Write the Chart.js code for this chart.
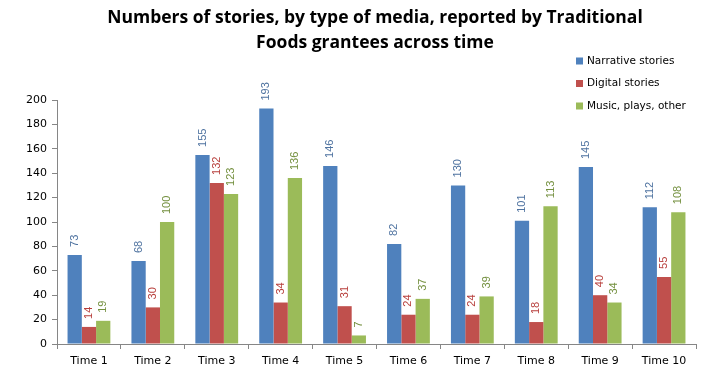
<!DOCTYPE html>
<html>
<head>
<meta charset="utf-8">
<script src="https://cdn.jsdelivr.net/npm/chart.js@4"></script>
<style>
html,body{margin:0;padding:0;background:#fff;}
#wrap{width:718px;height:382px;position:relative;}
</style>
</head>
<body>
<div id="wrap"><canvas id="c" width="718" height="382"></canvas></div>
<script>
const categories = ["Time 1","Time 2","Time 3","Time 4","Time 5","Time 6","Time 7","Time 8","Time 9","Time 10"];
const narrative = [73, 68, 155, 193, 146, 82, 130, 101, 145, 112];
const digital = [14, 30, 132, 34, 31, 24, 24, 18, 40, 55];
const music = [19, 100, 123, 136, 7, 37, 39, 113, 34, 108];
const seriesNames = ["Narrative stories", "Digital stories", "Music, plays, other"];
const titleLines = ["Numbers of stories, by type of media, reported by Traditional", "Foods grantees across time"];

const fillColors = ["#4F81BD", "#C0504D", "#9BBB59"];
const labelColors = ["#4F73A0", "#B8403D", "#74903F"];

const titlePlugin = {
  id: 'customTitle',
  afterDraw(chart) {
    const ctx = chart.ctx;
    ctx.save();
    ctx.font = "bold 17.5px 'Open Sans', sans-serif";
    ctx.fillStyle = "#000";
    ctx.textAlign = "center";
    ctx.textBaseline = "middle";
    ctx.fillText(titleLines[0], 375, 18);
    ctx.fillText(titleLines[1], 375, 43);
    ctx.restore();
  }
};

const legendPlugin = {
  id: 'customLegend',
  afterDraw(chart) {
    const ctx = chart.ctx;
    ctx.save();
    ctx.font = "10.5px 'DejaVu Sans', sans-serif";
    ctx.textBaseline = "middle";
    ctx.textAlign = "left";
    chart.data.datasets.forEach((ds, i) => {
      const y = 61 + i * 22.5;
      ctx.fillStyle = ds.backgroundColor;
      ctx.fillRect(576, y - 3.5, 7, 7);
      ctx.fillStyle = "#000";
      ctx.fillText(ds.label, 587, y);
    });
    ctx.restore();
  }
};

const valueLabelPlugin = {
  id: 'valueLabels',
  afterDatasetsDraw(chart) {
    const ctx = chart.ctx;
    ctx.save();
    ctx.font = "11px 'Liberation Sans', Arial, sans-serif";
    ctx.textBaseline = "middle";
    ctx.textAlign = "left";
    chart.data.datasets.forEach((ds, di) => {
      const meta = chart.getDatasetMeta(di);
      meta.data.forEach((bar, i) => {
        ctx.save();
        ctx.translate(bar.x, bar.y - 8);
        ctx.rotate(-Math.PI / 2);
        ctx.fillStyle = labelColors[di];
        ctx.fillText(String(ds.data[i]), 0, 0);
        ctx.restore();
      });
    });
    ctx.restore();
  }
};

new Chart(document.getElementById('c'), {
  type: 'bar',
  data: {
    labels: categories,
    datasets: [
      { label: seriesNames[0], data: narrative, backgroundColor: fillColors[0] },
      { label: seriesNames[1], data: digital, backgroundColor: fillColors[1] },
      { label: seriesNames[2], data: music, backgroundColor: fillColors[2] }
    ]
  },
  options: {
    responsive: false,
    animation: false,
    devicePixelRatio: 1,
    layout: { padding: { top: 100, right: 22, left: 0, bottom: 0 } },
    datasets: { bar: { categoryPercentage: 0.67, barPercentage: 1.0 } },
    plugins: {
      legend: { display: false },
      title: { display: false },
      tooltip: { enabled: false }
    },
    scales: {
      x: {
        grid: { offset: true, drawOnChartArea: false, drawTicks: true, tickLength: 5, color: "#868686" },
        border: { color: "#868686" },
        ticks: { color: "#000", font: { family: "'DejaVu Sans', sans-serif", size: 11 }, padding: 6 },
        afterFit(axis) { axis.height = 38; }
      },
      y: {
        min: 0, max: 200,
        grid: { drawOnChartArea: false, drawTicks: true, tickLength: 5, color: "#868686" },
        border: { color: "#868686" },
        ticks: { stepSize: 20, color: "#000", font: { family: "'DejaVu Sans', sans-serif", size: 11 }, padding: 5 },
        afterFit(axis) { axis.width = 57; }
      }
    }
  },
  plugins: [titlePlugin, legendPlugin, valueLabelPlugin]
});
</script>
</body>
</html>
